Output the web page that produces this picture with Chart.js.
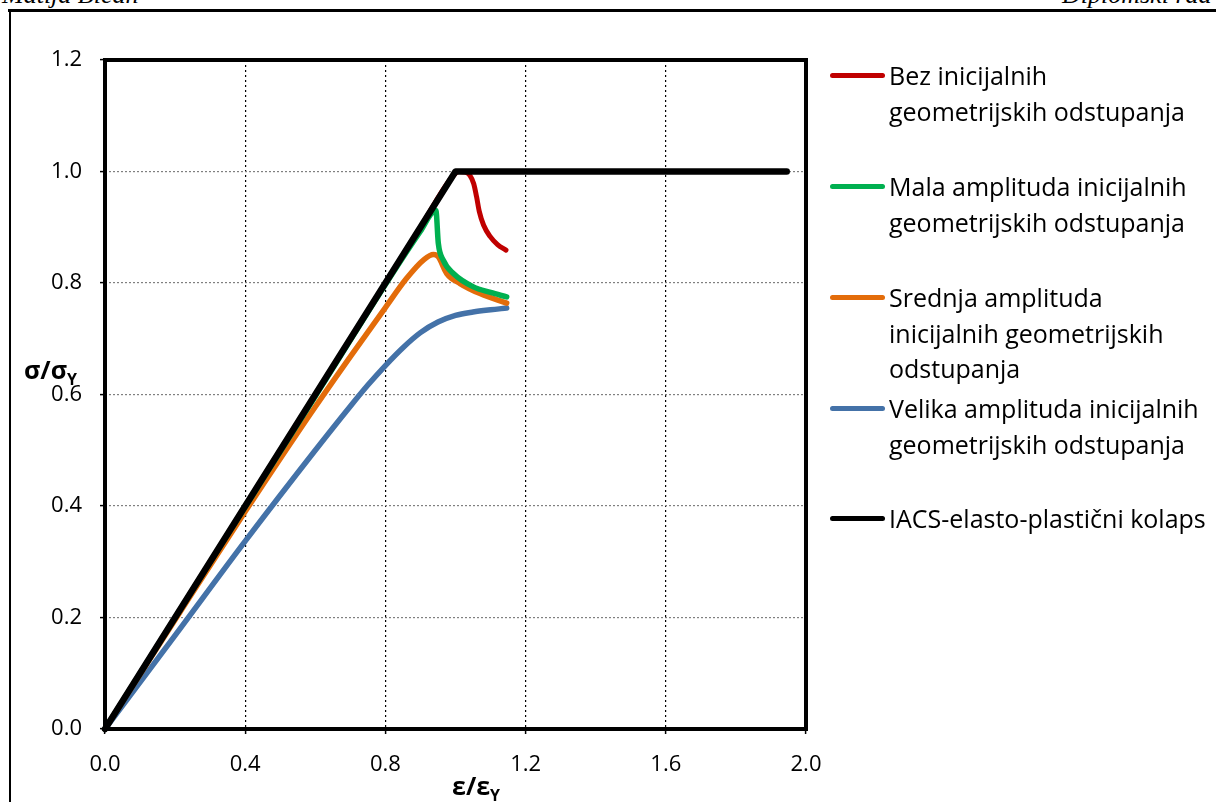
<!DOCTYPE html>
<html>
<head>
<meta charset="utf-8">
<script src="https://cdn.jsdelivr.net/npm/chart.js@4.4.1/dist/chart.umd.min.js"></script>
<style>
  body { margin: 0; background: #fff; width: 1216px; height: 802px; overflow: hidden; position: relative; font-family: 'Open Sans', sans-serif; }
  #chart { position: absolute; left: 0; top: 0; }
  .hdr { position: absolute; top: -20px; font-family: 'Liberation Serif', serif; font-style: italic; font-size: 26px; color: #000; white-space: nowrap; }
  #frameTop { position: absolute; left: 8px; top: 9px; width: 1208px; height: 3px; background: #000; }
  #frameLeft { position: absolute; left: 9px; top: 9px; width: 2px; height: 793px; background: #000; }
  .item { position: absolute; left: 830px; }
  .item .sw { position: absolute; left: 0; width: 55px; height: 5px; border-radius: 3px; }
  .item .txt { position: absolute; left: 59px; width: 340px; font-size: 25px; line-height: 35.5px; color: #000; white-space: nowrap; }
</style>
</head>
<body>
<div class="hdr" style="left:2px">Matija Bičan</div>
<div class="hdr" style="left:1062px">Diplomski rad</div>
<div id="frameTop"></div>
<div id="frameLeft"></div>
<canvas id="chart" width="1216" height="802"></canvas>
<div id="legend"></div>
<script>
// tick values
const xTicks = [0.0, 0.4, 0.8, 1.2, 1.6, 2.0];
const yTicks = [0.0, 0.2, 0.4, 0.6, 0.8, 1.0, 1.2];

// legend labels (line breaks as in the picture)
const labelBez = ['Bez inicijalnih', 'geometrijskih odstupanja'];
const labelMala = ['Mala amplituda inicijalnih', 'geometrijskih odstupanja'];
const labelSrednja = ['Srednja amplituda', 'inicijalnih geometrijskih', 'odstupanja'];
const labelVelika = ['Velika amplituda inicijalnih', 'geometrijskih odstupanja'];
const labelIacs = ['IACS-elasto-plastični kolaps'];

// ε/εY and σ/σY values
const bezX = [0.0, 0.5, 0.9, 0.99, 1.01, 1.028, 1.041, 1.052, 1.06, 1.068, 1.08, 1.098, 1.12, 1.144];
const bezY = [0.0, 0.5, 0.9, 0.99, 1.0, 0.999, 0.993, 0.978, 0.955, 0.928, 0.904, 0.884, 0.869, 0.859];

const malaX = [0.0, 0.3, 0.6, 0.9, 0.944, 0.951, 0.965, 0.994, 1.051, 1.1, 1.146];
const malaY = [0.0, 0.299, 0.597, 0.893, 0.93, 0.871, 0.841, 0.817, 0.793, 0.783, 0.775];

const srednjaX = [0.0, 0.2, 0.4, 0.6, 0.7, 0.8, 0.86, 0.91, 0.937, 0.951, 0.975, 1.013, 1.07, 1.146];
const srednjaY = [0.0, 0.196, 0.39, 0.578, 0.668, 0.756, 0.808, 0.842, 0.851, 0.847, 0.817, 0.799, 0.781, 0.764];

const velikaX = [0.0, 0.2, 0.4, 0.6, 0.7, 0.75, 0.8, 0.85, 0.9, 0.95, 1.0, 1.05, 1.1, 1.146];
const velikaY = [0.0, 0.168, 0.337, 0.5, 0.579, 0.617, 0.652, 0.684, 0.711, 0.73, 0.742, 0.748, 0.752, 0.755];

const iacsX = [0.0, 1.0, 1.945];
const iacsY = [0.0, 1.0, 1.0];

const toPts = (xs, ys) => xs.map((x, i) => ({ x: x, y: ys[i] }));

const series = [
  { label: labelBez, xs: bezX, ys: bezY, color: '#C00000', width: 5, order: 1, smooth: true },
  { label: labelMala, xs: malaX, ys: malaY, color: '#00B050', width: 5.5, order: 2, smooth: true },
  { label: labelSrednja, xs: srednjaX, ys: srednjaY, color: '#E36C0A', width: 5.5, order: 3, smooth: true },
  { label: labelVelika, xs: velikaX, ys: velikaY, color: '#4472A8', width: 5.5, order: 4, smooth: true },
  { label: labelIacs, xs: iacsX, ys: iacsY, color: '#000000', width: 6.5, order: 0, smooth: false }
];

const plotFrame = {
  id: 'plotFrame',
  afterDraw(chart) {
    const ctx = chart.ctx, a = chart.chartArea;
    ctx.save();
    ctx.strokeStyle = '#000';
    ctx.lineWidth = 4;
    ctx.strokeRect(a.left, a.top, a.right - a.left, a.bottom - a.top);
    // axis titles with subscript Y
    ctx.fillStyle = '#000';
    ctx.textBaseline = 'alphabetic';
    ctx.textAlign = 'left';
    function titled(main, x, y) {
      ctx.font = 'bold 25px "Open Sans"';
      ctx.fillText(main, x, y);
      const w = ctx.measureText(main).width;
      ctx.font = 'bold 16px "Open Sans"';
      ctx.fillText('Y', x + w, y + 6);
    }
    titled('σ/σ', 24, 379);
    titled('ε/ε', 452, 795);
    ctx.restore();
  }
};

const ctx = document.getElementById('chart').getContext('2d');
const chart = new Chart(ctx, {
  type: 'line',
  data: {
    datasets: series.map(s => ({
      label: s.label.join(' '),
      data: toPts(s.xs, s.ys),
      borderColor: s.color,
      backgroundColor: s.color,
      borderWidth: s.width,
      pointRadius: 0,
      cubicInterpolationMode: s.smooth ? 'monotone' : 'default',
      tension: 0,
      borderCapStyle: 'round',
      borderJoinStyle: 'round',
      order: s.order,
      clip: false
    }))
  },
  options: {
    responsive: false,
    animation: false,
    layout: { padding: { left: 0, top: 60, right: 410, bottom: 0 } },
    plugins: { legend: { display: false }, tooltip: { enabled: false } },
    scales: {
      x: {
        type: 'linear',
        min: 0, max: 2.0,
        afterBuildTicks: (s) => { s.ticks = xTicks.map(v => ({ value: v })); },
        afterFit: (s) => { s.height = 73; },
        border: { display: false, dash: [2, 3] },
        grid: { color: '#000', lineWidth: 1.2, drawTicks: true, tickLength: 5, tickColor: '#000', tickBorderDash: [], tickWidth: 1.5 },
        ticks: { color: '#000', font: { family: 'Open Sans', size: 22 }, padding: 18, maxRotation: 0, callback: (v) => v.toFixed(1) }
      },
      y: {
        type: 'linear',
        min: 0, max: 1.2,
        afterBuildTicks: (s) => { s.ticks = yTicks.map(v => ({ value: v })); },
        afterFit: (s) => { s.width = 105; },
        border: { display: false, dash: [2, 2] },
        grid: { color: '#808080', lineWidth: 1.2, drawTicks: true, tickLength: 5, tickColor: '#000', tickBorderDash: [], tickWidth: 1.5 },
        ticks: { color: '#000', font: { family: 'Open Sans', size: 22 }, padding: 18, callback: (v) => v.toFixed(1) }
      }
    }
  },
  plugins: [plotFrame]
});

// legend: first text line of each entry is centred on its marker
const legendTops = [76, 187, 298, 409, 519];
const legend = document.getElementById('legend');
series.forEach((s, i) => {
  const item = document.createElement('div');
  item.className = 'item';
  item.style.top = (legendTops[i] - 18) + 'px';
  const sw = document.createElement('div');
  sw.className = 'sw';
  sw.style.top = '15px';
  sw.style.background = s.color;
  const txt = document.createElement('div');
  txt.className = 'txt';
  txt.innerHTML = s.label.join('<br>');
  item.appendChild(sw);
  item.appendChild(txt);
  legend.appendChild(item);
});
</script>
</body>
</html>
